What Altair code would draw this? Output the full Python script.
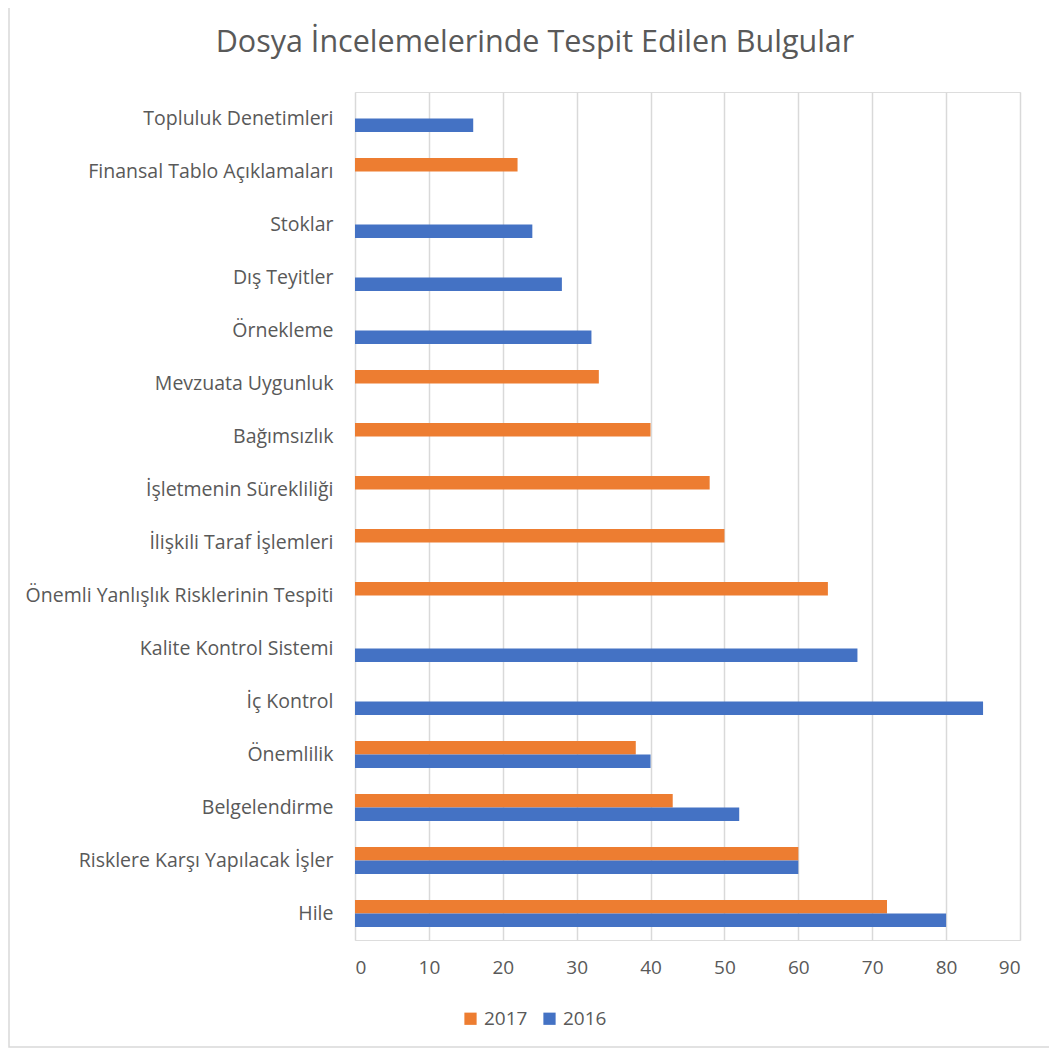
import altair as alt
import pandas as pd

categories = [
    "Topluluk Denetimleri",
    "Finansal Tablo Açıklamaları",
    "Stoklar",
    "Dış Teyitler",
    "Örnekleme",
    "Mevzuata Uygunluk",
    "Bağımsızlık",
    "İşletmenin Sürekliliği",
    "İlişkili Taraf İşlemleri",
    "Önemli Yanlışlık Risklerinin Tespiti",
    "Kalite Kontrol Sistemi",
    "İç Kontrol",
    "Önemlilik",
    "Belgelendirme",
    "Risklere Karşı Yapılacak İşler",
    "Hile",
]
values_2017 = [None, 22, None, None, None, 33, 40, 48, 50, 64, None, None, 38, 43, 60, 72]
values_2016 = [16, None, 24, 28, 32, None, None, None, None, None, 68, 85, 40, 52, 60, 80]
years = ["2017", "2016"]
colors = ["#ED7D31", "#4472C4"]
title_text = "Dosya İncelemelerinde Tespit Edilen Bulgular"

rows = []
for c, v17, v16 in zip(categories, values_2017, values_2016):
    if v17 is not None:
        rows.append({"Kategori": c, "Yıl": "2017", "Değer": v17})
    if v16 is not None:
        rows.append({"Kategori": c, "Yıl": "2016", "Değer": v16})
df = pd.DataFrame(rows)

FONT = "Open Sans"
GREY = "#595959"
W, H = 665, 848
PAD = {"left": 347, "top": 84, "right": 29, "bottom": 109}

bars = alt.Chart(df).mark_bar().encode(
    y=alt.Y(
        "Kategori:N",
        sort=categories,
        scale=alt.Scale(paddingInner=0.49, paddingOuter=0.245),
        axis=alt.Axis(
            title=None, domain=False, ticks=False, labelPadding=22,
            labelFontSize=19.5, labelColor=GREY, labelFont=FONT, labelLimit=400,
        ),
    ),
    yOffset=alt.YOffset("Yıl:N", scale=alt.Scale(domain=years, paddingInner=0, paddingOuter=0)),
    x=alt.X(
        "Değer:Q",
        scale=alt.Scale(domain=[0, 90], nice=False),
        axis=alt.Axis(
            title=None, values=list(range(0, 91, 10)), domain=False, ticks=False,
            labelPadding=18, labelFontSize=19, labelColor=GREY, labelFont=FONT,
            grid=True, gridColor="#d9d9d9", gridWidth=1.5,
        ),
    ),
    color=alt.Color(
        "Yıl:N",
        scale=alt.Scale(domain=years, range=colors),
        legend=alt.Legend(
            title=None, orient="none", legendX=106, legendY=917, direction="horizontal",
            symbolType="square", symbolSize=150, symbolStrokeWidth=0,
            labelFontSize=19, labelColor=GREY, labelFont=FONT, columnPadding=12,
            labelOffset=4,
        ),
    ),
)

title = alt.Chart(pd.DataFrame({"t": [title_text]})).mark_text(
    fontSize=30.5, font=FONT, color=GREY, align="center", baseline="middle"
).encode(
    text="t:N",
    x=alt.value(180),
    y=alt.value(-49),
)

border = alt.Chart(pd.DataFrame({"a": [0]})).mark_rect(
    fill=None, stroke="#d9d9d9", strokeWidth=1.5
).encode(
    x=alt.value(-346),
    x2=alt.value(W + 60),
    y=alt.value(-120),
    y2=alt.value(955),
)

chart = alt.layer(border, bars, title).properties(
    width=W,
    height=H,
    padding=PAD,
    autosize=alt.AutoSizeParams(type="none"),
).configure_view(stroke=None).configure(background="white")

chart.save("out.html", embed_options={"renderer": "svg", "actions": False})
